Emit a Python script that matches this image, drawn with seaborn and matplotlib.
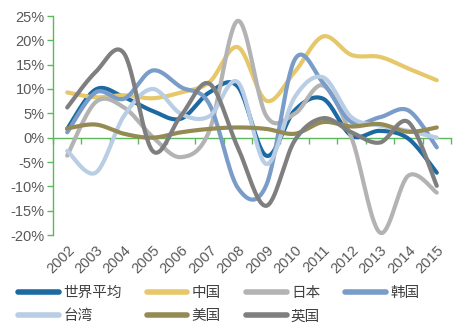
import numpy as np
import pandas as pd
import matplotlib
matplotlib.use("Agg")
import matplotlib.pyplot as plt
import seaborn as sns
from matplotlib.lines import Line2D

years = ["2002", "2003", "2004", "2005", "2006", "2007", "2008",
         "2009", "2010", "2011", "2012", "2013", "2014", "2015"]
series_names = ["世界平均", "中国", "日本", "韩国", "台湾", "美国", "英国"]

world = [1.8, 9.9, 8.3, 5.5, 3.9, 9.3, 10.5, -3.7, 5.6, 8.0, 0.4, 1.4, -0.2, -7.2]
china = [9.3, 8.3, 8.7, 8.1, 9.3, 11.4, 18.6, 7.6, 13.5, 20.8, 17.0, 16.6, 14.2, 11.8]
japan = [-3.7, 7.3, 6.2, 0.2, -4.0, 1.4, 24.0, 4.5, 4.9, 10.7, 0.0, -19.5, -7.8, -11.3]
korea = [1.1, 9.3, 8.0, 13.8, 10.4, 6.9, -10.3, -9.8, 16.0, 11.3, 3.2, 4.2, 5.6, -2.0]
taiwan = [-2.7, -7.2, 4.5, 10.0, 4.9, 4.4, 11.4, -5.4, 8.3, 12.4, 4.2, 2.5, 1.4, 0.0]
usa = [1.9, 2.7, 0.8, 0.0, 1.1, 1.8, 2.1, 1.8, 0.8, 3.2, 2.3, 2.8, 1.2, 2.1]
uk = [6.2, 13.5, 17.3, -2.7, 4.5, 11.1, -2.0, -14.0, -0.6, 4.0, 1.1, -1.0, 3.2, -9.9]

yticks = [-20, -15, -10, -5, 0, 5, 10, 15, 20, 25]

colors = ["#1d6aa3", "#e6c86a", "#b3b3b3", "#7a9cc9", "#b9cde5", "#948a54", "#7f7f7f"]
all_values = [world, china, japan, korea, taiwan, usa, uk]


def smooth(vals, n=30):
    # Excel-style smoothed line (Catmull-Rom Bezier) through the data points
    p = np.asarray(vals, dtype=float)
    x = np.arange(len(p), dtype=float)
    pts = np.column_stack([x, p])
    ext = np.vstack([pts[0], pts, pts[-1]])
    out = []
    t = np.linspace(0, 1, n, endpoint=False)[:, None]
    for i in range(len(pts) - 1):
        p0, p1, p2, p3 = ext[i], ext[i + 1], ext[i + 2], ext[i + 3]
        b1 = p1 + (p2 - p0) / 6.0
        b2 = p2 - (p3 - p1) / 6.0
        seg = ((1 - t) ** 3) * p1 + 3 * ((1 - t) ** 2) * t * b1 + 3 * (1 - t) * t ** 2 * b2 + t ** 3 * p2
        out.append(seg)
    out.append(pts[-1][None, :])
    return np.vstack(out)


frames = []
for name, vals in zip(series_names, all_values):
    s = smooth(vals)
    frames.append(pd.DataFrame({"x": s[:, 0], "y": s[:, 1], "series": name}))
df = pd.concat(frames, ignore_index=True)

sns.set_theme(style="white")
plt.rcParams["font.family"] = ["Liberation Sans", "Noto Sans CJK SC", "DejaVu Sans"]

fig = plt.figure(figsize=(4.56, 3.34), dpi=100)
ax = fig.add_axes([53 / 456, 1 - 235 / 334, (451 - 53) / 456, (235 - 16) / 334])

green = "#5cb85c"
text_color = "#595959"

for name, col in zip(series_names, colors):
    sub = df[df["series"] == name]
    sns.lineplot(data=sub, x="x", y="y", sort=False, estimator=None,
                 color=col, linewidth=3.0, ax=ax, legend=False,
                 solid_capstyle="round")

ax.set_xlim(-0.5, len(years) - 0.5)
ax.set_ylim(-20, 25)
ax.set_yticks(yticks)
ax.set_yticklabels([f"{v}%" for v in yticks], color=text_color, fontsize=10.5)
ax.set_xticks(range(len(years)))
ax.set_xticklabels(years, rotation=45, ha="right", rotation_mode="anchor",
                   color=text_color, fontsize=10.5)
ax.tick_params(axis="x", length=0, pad=6)
ax.tick_params(axis="y", length=4, width=1, color=green, direction="out", pad=2, left=True)
ax.set_xlabel("")
ax.set_ylabel("")
for s in ["top", "right", "bottom"]:
    ax.spines[s].set_visible(False)
ax.spines["left"].set_color(green)
ax.spines["left"].set_linewidth(1)

# zero axis line with category boundary ticks
sec = ax.secondary_xaxis(20 / 45)
sec.set_xticks(np.arange(-0.5, len(years), 1.0))
sec.set_xticklabels([])
sec.tick_params(axis="x", length=4, width=1, color=green, direction="out")
sec.spines["bottom"].set_color(green)
sec.spines["bottom"].set_linewidth(1)
sec.set_zorder(0)

# legend filled row by row (matplotlib fills column by column)
order = [0, 4, 1, 5, 2, 6, 3]
handles = [Line2D([0], [0], color=colors[i], linewidth=4, solid_capstyle="round") for i in order]
labels = [series_names[i] for i in order]
fig.legend(handles, labels, loc="upper left",
           bbox_to_anchor=(18 / 456, 1 - 286 / 334), ncol=4, frameon=False,
           prop={"family": ["Noto Sans CJK SC"], "size": 10.5},
           handlelength=2.8, handletextpad=0.3, columnspacing=1.7,
           labelspacing=0.65, borderpad=0, borderaxespad=0, labelcolor="#404040")

fig.savefig("out.png", dpi=100, facecolor="white")
